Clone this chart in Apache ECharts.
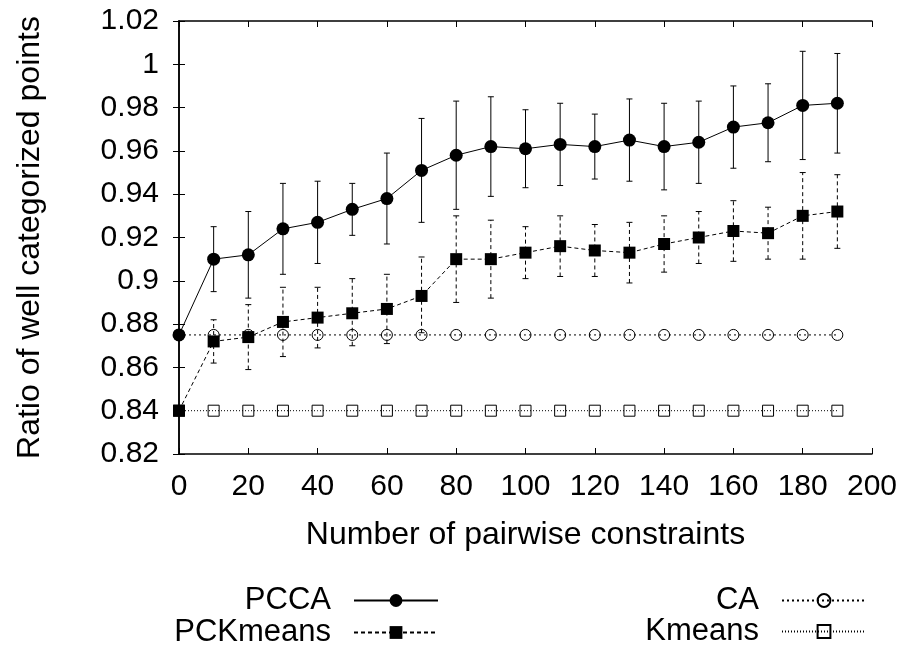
<!DOCTYPE html>
<html>
<head>
<meta charset="utf-8">
<script src="https://cdn.jsdelivr.net/npm/echarts@6/dist/echarts.min.js"></script>
<style>
    html, body { margin: 0; padding: 0; background: #fff; }
    #chart { width: 909px; height: 651px; }
</style>
</head>
<body>
<div id="chart"></div>
<script>
// number of pairwise constraints
var constraints = [0, 10, 20, 30, 40, 50, 60, 70, 80, 90, 100, 110, 120, 130, 140, 150, 160, 170, 180, 190];

// PCCA mean and error bar ends
var pccaMean = [0.875, 0.910, 0.912, 0.924, 0.927, 0.933, 0.938, 0.951, 0.958, 0.962, 0.961, 0.963, 0.962, 0.965, 0.962, 0.964, 0.971, 0.973, 0.981, 0.982];
var pccaLow  = [0.875, 0.895, 0.892, 0.903, 0.908, 0.921, 0.917, 0.927, 0.933, 0.939, 0.943, 0.944, 0.947, 0.946, 0.942, 0.945, 0.952, 0.955, 0.956, 0.959];
var pccaHigh = [0.875, 0.925, 0.932, 0.945, 0.946, 0.945, 0.959, 0.975, 0.983, 0.985, 0.979, 0.982, 0.977, 0.984, 0.982, 0.983, 0.990, 0.991, 1.006, 1.005];

// PCKmeans mean and error bar ends
var pckMean = [0.840, 0.872, 0.874, 0.881, 0.883, 0.885, 0.887, 0.893, 0.910, 0.910, 0.913, 0.916, 0.914, 0.913, 0.917, 0.920, 0.923, 0.922, 0.930, 0.932];
var pckLow  = [0.840, 0.862, 0.859, 0.865, 0.869, 0.870, 0.871, 0.876, 0.890, 0.892, 0.901, 0.902, 0.902, 0.899, 0.904, 0.908, 0.909, 0.910, 0.910, 0.915];
var pckHigh = [0.840, 0.882, 0.889, 0.897, 0.897, 0.901, 0.903, 0.911, 0.930, 0.928, 0.925, 0.930, 0.926, 0.927, 0.930, 0.932, 0.937, 0.934, 0.950, 0.949];

// baselines
var caMean     = [0.875, 0.875, 0.875, 0.875, 0.875, 0.875, 0.875, 0.875, 0.875, 0.875, 0.875, 0.875, 0.875, 0.875, 0.875, 0.875, 0.875, 0.875, 0.875, 0.875];
var kmeansMean = [0.840, 0.840, 0.840, 0.840, 0.840, 0.840, 0.840, 0.840, 0.840, 0.840, 0.840, 0.840, 0.840, 0.840, 0.840, 0.840, 0.840, 0.840, 0.840, 0.840];

var FONT = '"Liberation Sans", Arial, Helvetica, sans-serif';

function pairs(ys) {
    var out = [], i;
    for (i = 0; i < constraints.length; i++) {
        out.push([constraints[i], ys[i]]);
    }
    return out;
}

function bars(lo, hi) {
    var out = [], i;
    for (i = 0; i < constraints.length; i++) {
        out.push([constraints[i], lo[i], hi[i]]);
    }
    return out;
}

function errorBar(dash) {
    return function (params, api) {
        var x = api.value(0),
            lo = api.coord([x, api.value(1)]),
            hi = api.coord([x, api.value(2)]),
            cap = 3,
            style = { stroke: '#000', lineWidth: 1, lineDash: dash, fill: null };
        if (api.value(1) === api.value(2)) {
            return null;
        }
        return {
            type: 'group',
            children: [
                { type: 'line', shape: { x1: lo[0], y1: lo[1], x2: hi[0], y2: hi[1] }, style: style },
                { type: 'line', shape: { x1: lo[0] - cap, y1: lo[1], x2: lo[0] + cap, y2: lo[1] }, style: { stroke: '#000', lineWidth: 1 } },
                { type: 'line', shape: { x1: hi[0] - cap, y1: hi[1], x2: hi[0] + cap, y2: hi[1] }, style: { stroke: '#000', lineWidth: 1 } }
            ]
        };
    };
}

var chart = echarts.init(document.getElementById('chart'), null, { renderer: 'canvas' });

var axisLineStyle = { color: '#000', width: 1.5 };
var legendText = { fontFamily: FONT, fontSize: 31, lineHeight: 30, color: '#000', padding: [0, 18, 0, 0] };

var option = {
    backgroundColor: '#fff',
    animation: false,
    textStyle: { fontFamily: FONT },
    grid: { left: 179, right: 37, top: 21, bottom: 197 },
    legend: [
        {
            data: ['PCCA', 'PCKmeans'],
            orient: 'vertical',
            align: 'right',
            right: 470,
            top: 585,
            padding: 0,
            itemGap: 1,
            itemWidth: 84,
            itemHeight: 16,
            selectedMode: false,
            textStyle: legendText
        },
        {
            data: ['CA', 'Kmeans'],
            orient: 'vertical',
            align: 'right',
            right: 42,
            top: 585,
            padding: 0,
            itemGap: 0,
            itemWidth: 84,
            itemHeight: 16,
            selectedMode: false,
            textStyle: legendText
        }
    ],
    xAxis: [
        {
            type: 'value',
            min: 0,
            max: 200,
            interval: 20,
            name: 'Number of pairwise constraints',
            nameLocation: 'middle',
            nameGap: 65,
            nameTextStyle: { fontFamily: FONT, fontSize: 32, color: '#000' },
            axisLine: { show: true, lineStyle: axisLineStyle },
            axisTick: { show: true, inside: true, length: 6, lineStyle: { color: '#000' } },
            axisLabel: { fontFamily: FONT, fontSize: 30, color: '#000', margin: 18 },
            splitLine: { show: false }
        },
        {
            type: 'value',
            position: 'top',
            min: 0,
            max: 200,
            interval: 20,
            axisLine: { show: true, lineStyle: axisLineStyle },
            axisTick: { show: true, inside: true, length: 6, lineStyle: { color: '#000' } },
            axisLabel: { show: false },
            splitLine: { show: false }
        }
    ],
    yAxis: [
        {
            type: 'value',
            min: 0.82,
            max: 1.02,
            interval: 0.02,
            name: 'Ratio of well categorized points',
            nameLocation: 'middle',
            nameRotate: 90,
            nameGap: 133,
            nameTextStyle: { fontFamily: FONT, fontSize: 32, color: '#000' },
            axisLine: { show: true, lineStyle: axisLineStyle },
            axisTick: { show: true, inside: true, length: 6, lineStyle: { color: '#000' } },
            axisLabel: { fontFamily: FONT, fontSize: 30, color: '#000', margin: 20 },
            splitLine: { show: false }
        },
        {
            type: 'value',
            position: 'right',
            min: 0.82,
            max: 1.02,
            interval: 0.02,
            axisLine: { show: true, lineStyle: axisLineStyle },
            axisTick: { show: true, inside: true, length: 6, lineStyle: { color: '#000' } },
            axisLabel: { show: false },
            splitLine: { show: false }
        }
    ],
    series: [
        {
            name: 'Kmeans',
            type: 'line',
            data: pairs(kmeansMean),
            symbol: 'rect',
            symbolSize: 11,
            lineStyle: { color: '#000', width: 1, type: [1, 2] },
            itemStyle: { color: 'transparent', borderColor: '#000', borderWidth: 1 },
            z: 2
        },
        {
            name: 'CA',
            type: 'line',
            data: pairs(caMean),
            symbol: 'circle',
            symbolSize: 11,
            lineStyle: { color: '#000', width: 1, type: [2, 3] },
            itemStyle: { color: 'transparent', borderColor: '#000', borderWidth: 1 },
            z: 2
        },
        {
            name: 'PCKmeans bars',
            type: 'custom',
            data: bars(pckLow, pckHigh),
            encode: { x: 0, y: [1, 2] },
            renderItem: errorBar([4, 3]),
            z: 3
        },
        {
            name: 'PCCA bars',
            type: 'custom',
            data: bars(pccaLow, pccaHigh),
            encode: { x: 0, y: [1, 2] },
            renderItem: errorBar(null),
            z: 3
        },
        {
            name: 'PCKmeans',
            type: 'line',
            data: pairs(pckMean),
            symbol: 'rect',
            symbolSize: 12,
            lineStyle: { color: '#000', width: 1, type: [4, 3] },
            itemStyle: { color: '#000' },
            z: 4
        },
        {
            name: 'PCCA',
            type: 'line',
            data: pairs(pccaMean),
            symbol: 'circle',
            symbolSize: 13,
            lineStyle: { color: '#000', width: 1, type: 'solid' },
            itemStyle: { color: '#000' },
            z: 5
        }
    ]
};

chart.setOption(option);
</script>
</body>
</html>
